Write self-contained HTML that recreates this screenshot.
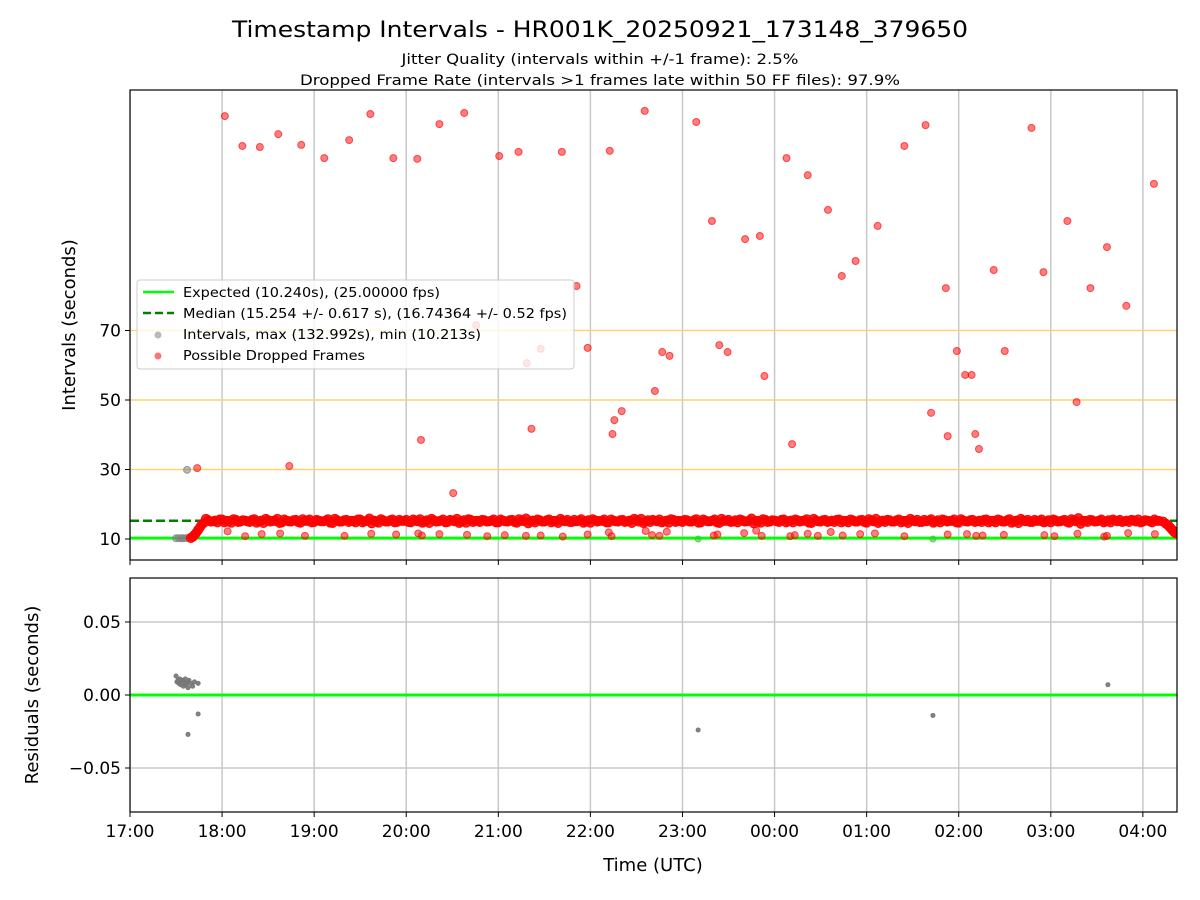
<!DOCTYPE html>
<html><head><meta charset="utf-8"><style>
html,body{margin:0;padding:0;background:#fff}
svg{display:block;font-family:"DejaVu Sans","Liberation Sans",sans-serif}
</style></head><body>
<svg id="chart" width="1200" height="900" viewBox="0 0 1200 900" xmlns="http://www.w3.org/2000/svg">
<rect width="1200" height="900" fill="#fff"/>
<text x="600" y="37" font-size="22" text-anchor="middle" textLength="736" lengthAdjust="spacingAndGlyphs">Timestamp Intervals - HR001K_20250921_173148_379650</text>
<text x="600" y="64" font-size="14" text-anchor="middle" textLength="397" lengthAdjust="spacingAndGlyphs">Jitter Quality (intervals within +/-1 frame): 2.5%</text>
<text x="600" y="85" font-size="14" text-anchor="middle" textLength="600" lengthAdjust="spacingAndGlyphs">Dropped Frame Rate (intervals &gt;1 frames late within 50 FF files): 97.9%</text>
<g id="topPlot"></g>
<g id="botPlot"></g>
<text transform="translate(75,325) rotate(-90)" font-size="18" text-anchor="middle">Intervals (seconds)</text>
<text transform="translate(38,695) rotate(-90)" font-size="18" text-anchor="middle">Residuals (seconds)</text>
<text x="653" y="871" font-size="18" text-anchor="middle">Time (UTC)</text>
</svg>
<script>
// ---- data (hours after 17:00 UTC) ----
const xTickLabels=["17:00","18:00","19:00","20:00","21:00","22:00","23:00","00:00","01:00","02:00","03:00","04:00"];
const yTickLabels=[10,30,50,70];
const resTickLabels=[0.05,0,-0.05];
const expected=10.24;
const median=15.254;
const bandStart=0.80, bandStep=0.05;
const bandValues=[14.6,15.4,15.1,14.8,15.6,15.2,14.7,15.5,15.0,15.3,14.9,15.7,15.1,14.6,15.4,15.2,15.8,14.8,15.3,15.0,
15.5,14.7,15.2,15.6,14.9,15.3,15.1,15.7,14.6,15.4,15.0,15.5,15.2,14.8,15.6,15.1,15.9,15.3,14.7,15.4,
15.0,15.6,14.9,15.2,15.5,14.8,15.3,15.7,15.0,14.6,15.4,15.1,15.6,14.9,15.3,15.8,15.0,14.7,15.5,15.2,
14.9,15.4,15.1,15.6,14.8,15.3,15.0,15.5,14.7,15.2,15.9,15.1,14.8,15.4,15.0,15.6,15.2,14.6,15.3,15.5,
14.9,15.1,15.7,15.0,14.7,15.4,15.2,15.6,14.8,15.3,15.0,15.5,15.1,14.6,15.4,15.8,15.0,14.9,15.3,15.6,
15.1,14.7,15.5,15.2,14.9,15.4,15.0,15.7,14.8,15.3,15.1,15.6,14.6,15.2,15.5,15.0,14.8,15.4,15.1,15.9,
15.2,14.7,15.5,15.0,15.3,14.9,15.6,15.1,14.8,15.4,15.2,15.7,14.6,15.3,15.0,15.5,15.1,14.9,15.6,15.2,
14.8,15.4,15.0,15.5,14.7,15.3,15.8,15.1,14.9,15.4,15.0,15.6,15.2,14.6,15.3,15.5,14.9,15.1,15.7,15.0,
14.8,15.4,15.2,15.6,14.7,15.3,15.0,15.5,15.1,14.9,15.6,15.2,14.8,15.4,15.0,15.7,15.1,14.6,15.3,15.5,
14.9,15.2,15.6,15.0,14.8,15.4,15.1,15.5,14.7,15.3,16.0,15.2,14.9,15.4,15.1,15.6,15.0,14.8,15.3,15.5,
15.1,14.9,15.4,15.6,15.0,15.3,14.8,15.2];
const tailTimes=[11.22,11.25,11.28,11.30,11.32,11.34,11.36];
const tailValues=[15.0,14.4,13.8,13.2,12.6,12.0,11.6];
const rampTimes=[0.66,0.68,0.70,0.72,0.74,0.76,0.78];
const rampValues=[10.3,10.6,11.2,11.8,12.6,13.4,14.2];
const highTimes=[1.03,1.22,1.41,1.61,1.86,2.11,2.38,2.61,2.86,3.12,3.36,3.63,4.01,4.22,4.69,5.21,5.59,6.15,6.32,6.68,6.84,7.13,7.36,7.58,7.73,7.88,8.12,8.41,8.64,8.86,9.38,9.79,9.92,10.18,10.43,10.61,10.82,11.12,4.85];
const highValues=[131.7,123.1,122.8,126.5,123.4,119.6,124.8,132.3,119.6,119.4,129.4,132.6,120.2,121.4,121.4,121.7,133.2,130.0,101.5,96.3,97.2,119.6,114.7,104.7,85.7,90.0,100.1,123.1,129.1,82.2,87.4,128.3,86.8,101.5,82.2,94.0,77.1,112.2,82.8];
const midTimes=[0.73,1.73,3.16,3.51,3.76,4.36,4.31,4.46,4.97,5.24,5.26,5.34,5.70,5.78,5.86,6.40,6.49,6.89,7.19,8.70,8.88,8.98,9.07,9.14,9.18,9.22,9.50,10.28];
const midValues=[30.4,31.0,38.5,23.2,71.5,41.7,60.6,64.7,65.0,40.2,44.2,46.8,52.6,63.8,62.7,65.8,63.8,56.9,37.3,46.3,39.6,64.1,57.2,57.2,40.2,35.9,64.1,49.4];
const lowTimes=[1.06,1.25,1.43,1.63,1.90,2.33,2.62,2.89,3.13,3.17,3.36,3.66,3.88,4.07,4.30,4.46,4.70,4.97,5.20,5.23,5.60,5.67,5.75,5.83,6.34,6.38,6.67,6.80,6.86,7.17,7.22,7.36,7.47,7.61,7.74,7.93,8.09,8.41,8.88,9.09,9.19,9.26,9.49,9.93,10.04,10.29,10.58,10.61,10.84,11.13];
const lowValues=[12.2,10.8,11.4,11.6,10.9,10.9,11.5,11.3,11.6,11.0,11.4,11.2,10.8,11.1,10.9,11.0,10.7,11.3,11.9,10.8,12.3,11.1,10.9,12.1,11.0,11.3,11.7,12.4,10.9,10.8,11.1,11.5,10.9,12.0,11.0,11.4,11.6,10.8,11.3,11.4,10.9,11.0,11.2,11.1,10.8,11.5,10.7,10.9,11.7,11.4];
const greyTimes=[0.50,0.53,0.56,0.58,0.61,0.62];
const greyValues=[10.2,10.25,10.2,10.22,10.26,29.9];
const greenTimes=[6.17,8.72];
const greenValues=[10.0,10.0];
const resTimes=[0.50,0.51,0.52,0.53,0.54,0.55,0.56,0.57,0.58,0.59,0.60,0.61,0.62,0.63,0.64,0.66,0.68,0.70,0.74,0.74,0.63,6.17,8.72,10.62];
const resValues=[0.013,0.009,0.010,0.008,0.011,0.007,0.009,0.010,0.006,0.008,0.011,0.007,0.009,0.005,0.010,0.008,0.006,0.009,0.008,-0.013,-0.027,-0.024,-0.014,0.007];

// ---- scales ----
const L=130,R=1177,T1=90,B1=560,T2=578,B2=812;
const xs=h=>L+h*92.08;
const y1=v=>539-(v-10)*3.475;
const y2=v=>695-v*1460;
const NS="http://www.w3.org/2000/svg";
function mk(parent,tag,attrs){const e=document.createElementNS(NS,tag);for(const k in attrs)e.setAttribute(k,attrs[k]);parent.appendChild(e);return e;}
const topG=document.getElementById('topPlot'), botG=document.getElementById('botPlot');

const defs=mk(document.getElementById('chart'),'defs',{});
const c1=mk(defs,'clipPath',{id:'c1'});mk(c1,'rect',{x:L,y:T1,width:R-L,height:B1-T1});
const c2=mk(defs,'clipPath',{id:'c2'});mk(c2,'rect',{x:L,y:T2,width:R-L,height:B2-T2});
const g1=mk(topG,'g',{'clip-path':'url(#c1)'});
const g2=mk(botG,'g',{'clip-path':'url(#c2)'});

xTickLabels.forEach((lab,i)=>{
  const gx=xs(i);
  const a=mk(g1,'line',{x1:gx,x2:gx,y1:T1,y2:B1,stroke:'#c8c8c8','stroke-width':1.5});
  
  
  const b=mk(g2,'line',{x1:gx,x2:gx,y1:T2,y2:B2,stroke:'#c8c8c8','stroke-width':1.5});
  
  
  mk(botG,'line',{x1:gx,x2:gx,y1:B2,y2:B2+5,stroke:'#000','stroke-width':1});
  const t=mk(botG,'text',{x:gx,y:B2+25,'font-size':17,'text-anchor':'middle'});t.textContent=lab;
  
  
  mk(topG,'line',{x1:gx,x2:gx,y1:B1,y2:B1+5,stroke:'#000','stroke-width':1});
});
yTickLabels.forEach(v=>{
  const gy=y1(v);
  if(v!==10){const l=mk(g1,'line',{x1:L,x2:R,y1:gy,y2:gy,stroke:'#ffd36e','stroke-width':1.5});
    
    }
  mk(topG,'line',{x1:L-5,x2:L,y1:gy,y2:gy,stroke:'#000'});
  const t=mk(topG,'text',{x:L-9,y:gy+6,'font-size':17,'text-anchor':'end'});t.textContent=v;
  
  
});
resTickLabels.forEach(v=>{
  const gy=y2(v);
  const l=mk(g2,'line',{x1:L,x2:R,y1:gy,y2:gy,stroke:'#c8c8c8','stroke-width':1.5});
  
  
  mk(botG,'line',{x1:L-5,x2:L,y1:gy,y2:gy,stroke:'#000'});
  const t=mk(botG,'text',{x:L-9,y:gy+6,'font-size':17,'text-anchor':'end'});
  t.textContent=v===0?'0.00':(v<0?'\u2212':'')+Math.abs(v).toFixed(2);
  
  
});

const med=mk(g1,'line',{x1:L,x2:R,y1:y1(median),y2:y1(median),stroke:'#008000','stroke-width':2.5,'stroke-dasharray':'9,4'});


const exp=mk(g1,'line',{x1:L,x2:R,y1:y1(expected),y2:y1(expected),stroke:'#00ff00','stroke-width':3});



function dot(g,cx,cy,r,fill,op,name){
  const c=mk(g,'circle',{cx:cx,cy:cy,r:r,fill:fill,'fill-opacity':op,stroke:fill,'stroke-opacity':Math.min(1,op+0.15),'stroke-width':1});
  
  
}
greyTimes.forEach((t,i)=>dot(g1,xs(t),y1(greyValues[i]),3.5,'#808080',0.55,'interval-point'));
greenTimes.forEach((t,i)=>dot(g1,xs(t),y1(greenValues[i]),3,'#33cc33',0.6,'interval-point'));
rampTimes.forEach((t,i)=>dot(g1,xs(t),y1(rampValues[i]),4.5,'#ff0000',0.8,'dropped-frame-point'));
bandValues.forEach((v,i)=>dot(g1,xs(bandStart+i*bandStep),y1(v),4.5,'#ff0000',0.85,'dropped-frame-point'));
bandValues.forEach((v,i)=>dot(g1,xs(bandStart+(i+0.5)*bandStep),y1(30.4-v),4.5,'#ff0000',0.85,'dropped-frame-point'));
tailTimes.forEach((t,i)=>dot(g1,xs(t),y1(tailValues[i]),4.5,'#ff0000',0.85,'dropped-frame-point'));
lowTimes.forEach((t,i)=>dot(g1,xs(t),y1(lowValues[i]),3.5,'#ff0000',0.5,'dropped-frame-point'));
midTimes.forEach((t,i)=>dot(g1,xs(t),y1(midValues[i]),3.5,'#ff0000',0.5,'dropped-frame-point'));
highTimes.forEach((t,i)=>dot(g1,xs(t),y1(highValues[i]),3.5,'#ff0000',0.5,'dropped-frame-point'));

const rl=mk(g2,'line',{x1:L,x2:R,y1:y2(0),y2:y2(0),stroke:'#00ff00','stroke-width':3});


resTimes.forEach((t,i)=>dot(g2,xs(t),y2(resValues[i]),2,'#777777',0.9,'residual-point'));

const f1=mk(topG,'rect',{x:L,y:T1,width:R-L,height:B1-T1,fill:'none',stroke:'#000','stroke-width':1.2});


const f2=mk(botG,'rect',{x:L,y:T2,width:R-L,height:B2-T2,fill:'none',stroke:'#000','stroke-width':1.2});



const lg=mk(topG,'g',{});


mk(lg,'rect',{x:137,y:280,width:437,height:89,rx:3,fill:'#fff','fill-opacity':0.8,stroke:'#ccc'});
mk(lg,'line',{x1:143,x2:174,y1:292,y2:292,stroke:'#00ff00','stroke-width':2.5});
mk(lg,'line',{x1:143,x2:174,y1:313,y2:313,stroke:'#008000','stroke-width':2.5,'stroke-dasharray':'8,4'});
mk(lg,'circle',{cx:158,cy:335,r:3.5,fill:'#808080','fill-opacity':0.55});
mk(lg,'circle',{cx:158,cy:356,r:3.5,fill:'#ff0000','fill-opacity':0.55});
const labs=["Expected (10.240s), (25.00000 fps)","Median (15.254 +/- 0.617 s), (16.74364 +/- 0.52 fps)","Intervals, max (132.992s), min (10.213s)","Possible Dropped Frames"];
const lens=[257,384,298,182];
labs.forEach((s,i)=>{const t=mk(lg,'text',{x:183,y:297+i*21,'font-size':13,textLength:lens[i],lengthAdjust:'spacingAndGlyphs'});t.textContent=s;
  
  });
</script>
</body></html>
